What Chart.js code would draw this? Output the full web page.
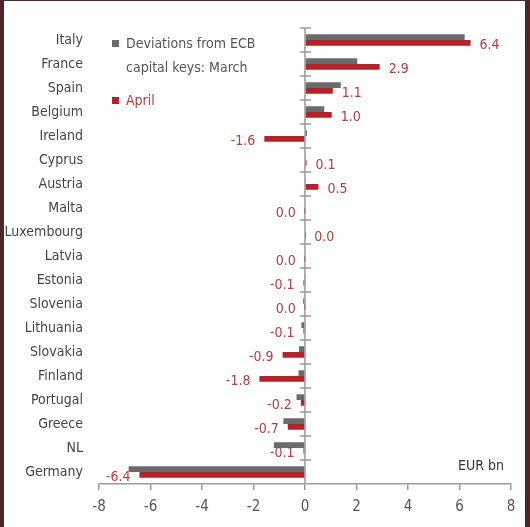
<!DOCTYPE html>
<html>
<head>
<meta charset="utf-8">
<script src="https://cdn.jsdelivr.net/npm/chart.js@4.4.1/dist/chart.umd.min.js"></script>
<style>
  html, body { margin: 0; padding: 0; background: #4a2828; width: 530px; height: 527px; overflow: hidden; }
  #frame { position: absolute; left: 4px; top: 1px; width: 521px; height: 526px; background: #fff; }
</style>
</head>
<body>
<div id="frame"><canvas id="chart" width="521" height="526"></canvas></div>
<script>
// data (EUR bn)
const countries = ['Italy', 'France', 'Spain', 'Belgium', 'Ireland', 'Cyprus', 'Austria', 'Malta', 'Luxembourg',
    'Latvia', 'Estonia', 'Slovenia', 'Lithuania', 'Slovakia', 'Finland', 'Portugal', 'Greece', 'NL', 'Germany'];
const march = [6.2, 2.03, 1.39, 0.75, 0.08, 0.02, 0.02, 0.0, -0.03, -0.03, -0.02, -0.07, -0.14, -0.23, -0.25, -0.33, -0.84, -1.21, -6.85];
const april = [6.43, 2.9, 1.08, 1.04, -1.58, 0.06, 0.52, -0.01, 0.01, -0.01, -0.06, -0.01, -0.06, -0.87, -1.77, -0.16, -0.67, -0.06, -6.43];
const xTicks = [-8, -6, -4, -2, 0, 2, 4, 6, 8];
const legendLines = [['Deviations from ECB', 'capital keys: March'], ['April']];
const unitLabel = 'EUR bn';

const FONT = '"Liberation Sans Narrow", "DejaVu Sans Condensed", "Liberation Sans", sans-serif';
const GREY = '#6b6b6b';
const RED = '#b2242b';
const LABEL_RED = '#b0403f';

// zero axis with crossing tick marks, April labels, legend, unit
const decorations = {
    id: 'decorations',
    beforeDatasetsDraw(chart) {
        const ctx = chart.ctx;
        const xs = chart.scales.x, ys = chart.scales.y;
        const area = chart.chartArea;
        const x0 = xs.getPixelForValue(0);
        const band = (area.bottom - area.top) / countries.length;
        ctx.save();
        ctx.strokeStyle = '#9a9a9a';
        ctx.lineWidth = 1.5;
        ctx.beginPath();
        ctx.moveTo(x0, area.top);
        ctx.lineTo(x0, area.bottom);
        for (let i = 0; i < countries.length; i++) {
            const y = ys.getPixelForValue(i) - band / 2;
            ctx.moveTo(x0 - 5, y);
            ctx.lineTo(x0 + 6, y);
        }
        ctx.stroke();
        ctx.restore();
    },
    afterDatasetsDraw(chart) {
        const ctx = chart.ctx;
        const meta = chart.getDatasetMeta(1);
        ctx.save();
        ctx.font = '14px ' + FONT;
        ctx.fillStyle = LABEL_RED;
        ctx.textBaseline = 'middle';
        meta.data.forEach((bar, i) => {
            const v = april[i];
            const txt = Math.abs(v) < 0.05 ? '0.0' : v.toFixed(1);
            if (v >= 0) {
                ctx.textAlign = 'left';
                ctx.fillText(txt, bar.x + 9, bar.y + 2);
            } else {
                ctx.textAlign = 'right';
                ctx.fillText(txt, bar.x - 9, bar.y + 2);
            }
        });

        // legend
        const lx = 108, colors = [GREY, RED], tops = [43, 100];
        ctx.textAlign = 'left';
        legendLines.forEach((lines, k) => {
            ctx.fillStyle = colors[k];
            ctx.fillRect(lx, tops[k] - 4, 7, 7);
            ctx.fillStyle = k === 0 ? '#555' : LABEL_RED;
            lines.forEach((line, j) => ctx.fillText(line, lx + 14, tops[k] + j * 24));
        });

        ctx.fillStyle = '#333';
        ctx.font = '14px ' + FONT;
        ctx.textAlign = 'right';
        ctx.fillText(unitLabel, 500, 465);
        ctx.restore();
    }
};

new Chart(document.getElementById('chart'), {
    type: 'bar',
    data: {
        labels: countries,
        datasets: [
            { label: legendLines[0].join(' '), data: march, backgroundColor: GREY },
            { label: legendLines[1][0], data: april, backgroundColor: RED }
        ]
    },
    options: {
        indexAxis: 'y',
        responsive: false,
        animation: false,
        categoryPercentage: 0.48,
        barPercentage: 1.0,
        layout: { padding: { top: 27, right: 14, bottom: 0, left: 0 } },
        plugins: { legend: { display: false }, tooltip: { enabled: false } },
        scales: {
            x: {
                min: -8, max: 8,
                afterFit: s => { s.height = 43; },
                afterBuildTicks: s => { s.ticks = xTicks.map(v => ({ value: v })); },
                grid: { display: true, drawOnChartArea: false, drawTicks: true, tickLength: 6, color: '#9a9a9a', lineWidth: 1.5 },
                border: { display: true, color: '#9a9a9a', width: 1.5 },
                ticks: { color: '#555', font: { family: FONT, size: 15 }, padding: 8 }
            },
            y: {
                afterFit: s => { s.width = 95; },
                grid: { display: false, drawTicks: false },
                border: { display: false },
                ticks: { color: '#444', font: { family: FONT, size: 14 }, padding: 16 }
            }
        }
    },
    plugins: [decorations]
});
</script>
</body>
</html>
